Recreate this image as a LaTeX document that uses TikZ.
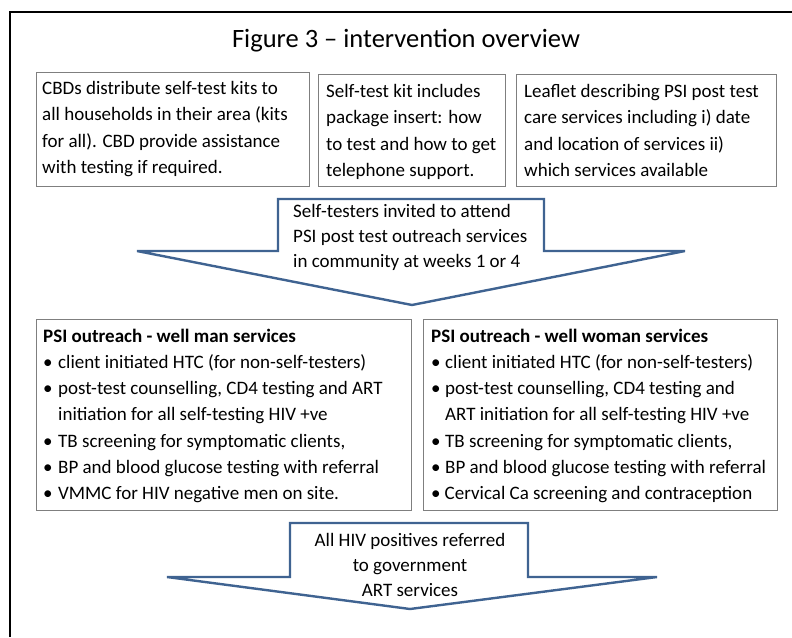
\documentclass[tikz,border=0pt]{standalone}
\usepackage{fontspec}
\setmainfont{Carlito}
\definecolor{arrowblue}{HTML}{3F6391}
\definecolor{boxgray}{HTML}{7F7F7F}
\newcommand{\bodyfont}{\fontsize{19}{26.5}\selectfont}
\newcommand{\titlefont}{\fontsize{26.5}{32}\selectfont}
\newcommand{\bul}[1][15pt]{\makebox[#1][l]{•}}
\begin{document}
\begin{tikzpicture}[x=1pt,y=-1pt,
  box/.style={draw=boxgray,line width=1.2pt,anchor=north west,inner sep=0pt},
  txt/.style={anchor=base west,inner sep=0pt,font=\bodyfont},
  ctxt/.style={anchor=base,inner sep=0pt,font=\bodyfont},
  blockarrow/.style={draw=arrowblue,line width=2.4pt,fill=white,line join=miter}]
\useasboundingbox (0,0) rectangle (792,637);
\fill[white] (0,0) rectangle (792,637);
\draw[line width=2pt] (10,637) -- (10,12) -- (792,12);

\node[font=\titlefont,anchor=base,inner sep=0pt] (title) at (406,47) {Figure 3 – intervention overview};

% top boxes
\node[box,minimum width=273pt,minimum height=114pt] (cbd) at (36,72) {};
\node[box,minimum width=187pt,minimum height=112pt] (kit) at (318,74) {};
\node[box,minimum width=260pt,minimum height=112pt] (leaf) at (516,74) {};

\foreach \t [count=\i] in {{CBDs distribute self-test kits to},{all households in their area (kits},{for all). CBD provide assistance},{with testing if required.}}
  \node[txt] (cbdl\i) at (42,94+26.5*\i-26.5) {\t};
\foreach \t [count=\i] in {{Self-test kit includes},{package insert: how},{to test and how to get},{telephone support.}}
  \node[txt] (kitl\i) at (326,97+26.5*\i-26.5) {\t};
\foreach \t [count=\i] in {{Leaflet describing PSI post test},{care services including i) date},{and location of services ii)},{which services available}}
  \node[txt] (leafl\i) at (524,97+26.5*\i-26.5) {\t};

% first block arrow
\draw[blockarrow] (278,199) -- (544,199) -- (544,251) -- (685,251) -- (412,305) -- (137,251) -- (278,251) -- cycle;
\foreach \t [count=\i] in {{Self-testers invited to attend},{PSI post test outreach services},{in community at weeks 1 or 4}}
  \node[txt] (invl\i) at (293,217+25*\i-25) {\t};

% service boxes
\node[box,minimum width=375pt,minimum height=191pt] (man) at (36,319) {};
\node[box,minimum width=354pt,minimum height=191pt] (woman) at (423,319) {};

\node[txt,font=\bodyfont\bfseries] (manh) at (43,342) {PSI outreach - well man services};
\foreach \t [count=\i] in {{\bul client initiated HTC (for non-self-testers)},{\bul post-test counselling, CD4 testing and ART},{\hspace*{15pt}initiation for all self-testing HIV +ve},{\bul TB screening for symptomatic clients,},{\bul BP and blood glucose testing with referral},{\bul VMMC for HIV negative men on site.}}
  \node[txt] (manl\i) at (43,342+26.3*\i) {\t};

\node[txt,font=\bodyfont\bfseries] (womanh) at (431,342) {PSI outreach - well woman services};
\foreach \t [count=\i] in {{\bul[14pt]client initiated HTC (for non-self-testers)},{\bul[14pt]post-test counselling, CD4 testing and},{\hspace*{14pt}ART initiation for all self-testing HIV +ve},{\bul[14pt]TB screening for symptomatic clients,},{\bul[14pt]BP and blood glucose testing with referral},{\bul[13.5pt]Cervical Ca screening and contraception}}
  \node[txt] (womanl\i) at (431,342+26.3*\i) {\t};

% second block arrow
\draw[blockarrow] (290,523) -- (528,523) -- (528,577) -- (657,577) -- (410,609) -- (167,577) -- (290,577) -- cycle;
\foreach \t [count=\i] in {{All HIV positives referred},{to government},{ART services}}
  \node[ctxt] (artl\i) at (410,546+25*\i-25) {\t};
\end{tikzpicture}
\end{document}
